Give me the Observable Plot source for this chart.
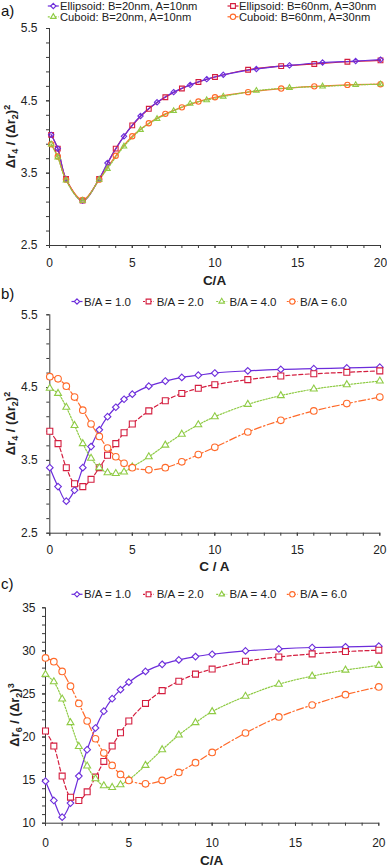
<!DOCTYPE html>
<html><head><meta charset="utf-8">
<script src="https://cdn.jsdelivr.net/npm/d3@7"></script>
<script src="https://cdn.jsdelivr.net/npm/@observablehq/plot@0.6"></script>
<style>
html,body{margin:0;padding:0;background:#fff;}
#chart{position:relative;width:387px;height:867px;overflow:hidden;font-family:"Liberation Sans",Arial,sans-serif;}
#chart svg{position:absolute;left:0;}
</style></head><body><div id="chart"></div>
<script>
// ---------- tick labels ----------
const X_TICKS = [0, 5, 10, 15, 20];
const AB_Y_TICKS = [2.5, 3.5, 4.5, 5.5];
const C_Y_TICKS = [10, 15, 20, 25, 30, 35];

// ---------- panel a ----------
const A_LABELS = ["Ellipsoid: B=20nm, A=10nm", "Ellipsoid: B=60nm, A=30nm", "Cuboid: B=20nm, A=10nm", "Cuboid: B=60nm, A=30nm"];
const aEll20X = [0.1, 0.5, 1, 2, 3, 3.5, 4.5, 5.5, 6.5, 7.5, 8.5, 9.5, 10.5, 12.5, 14.5, 16.5, 18.5, 20];
const aEll20Y = [4.03, 3.84, 3.42, 3.12, 3.42, 3.64, 4.01, 4.29, 4.48, 4.62, 4.72, 4.80, 4.86, 4.94, 4.99, 5.03, 5.05, 5.07];
const aEll60X = [0.1, 0.5, 1, 2, 3, 4, 5, 6, 7, 8, 9, 10, 12, 14, 16, 18, 20];
const aEll60Y = [4.03, 3.84, 3.42, 3.12, 3.42, 3.84, 4.16, 4.39, 4.55, 4.67, 4.76, 4.83, 4.93, 4.98, 5.01, 5.04, 5.06];
const aCub20X = [0.1, 0.5, 1, 2, 3, 3.5, 4.5, 5.5, 6.5, 7.5, 8.5, 9.5, 10.5, 12.5, 14.5, 16.5, 18.5, 20];
const aCub20Y = [3.90, 3.72, 3.40, 3.12, 3.41, 3.56, 3.87, 4.10, 4.25, 4.36, 4.46, 4.51, 4.56, 4.64, 4.68, 4.70, 4.72, 4.73];
const aCub60X = [0.1, 0.5, 1, 2, 3, 4, 5, 6, 7, 8, 9, 10, 12, 14, 16, 18, 20];
const aCub60Y = [3.90, 3.73, 3.41, 3.13, 3.41, 3.74, 4.01, 4.19, 4.32, 4.41, 4.49, 4.55, 4.62, 4.67, 4.70, 4.72, 4.73];

// ---------- panels b and c ----------
const BA_LABELS = ["B/A = 1.0", "B/A = 2.0", "B/A = 4.0", "B/A = 6.0"];
const bcX = [0, 0.5, 1, 1.5, 2, 2.5, 3, 3.5, 4, 4.5, 5, 6, 7, 8, 9, 10, 12, 14, 16, 18, 20];
const bBA1 = [3.40, 3.14, 2.94, 3.09, 3.40, 3.69, 3.92, 4.10, 4.23, 4.34, 4.41, 4.52, 4.59, 4.64, 4.67, 4.70, 4.73, 4.75, 4.76, 4.77, 4.78];
const bBA2 = [3.90, 3.73, 3.40, 3.18, 3.14, 3.24, 3.40, 3.57, 3.73, 3.88, 4.00, 4.18, 4.32, 4.42, 4.49, 4.54, 4.61, 4.66, 4.69, 4.71, 4.73];
const bBA4 = [4.49, 4.42, 4.23, 3.98, 3.73, 3.53, 3.40, 3.33, 3.32, 3.34, 3.41, 3.55, 3.71, 3.86, 3.99, 4.10, 4.27, 4.39, 4.48, 4.54, 4.59];
const bBA6 = [4.65, 4.62, 4.52, 4.37, 4.19, 4.00, 3.83, 3.67, 3.55, 3.46, 3.40, 3.37, 3.40, 3.48, 3.58, 3.68, 3.89, 4.05, 4.18, 4.28, 4.37];
const cBA1 = [14.88, 12.64, 10.70, 12.33, 15.47, 18.53, 21.05, 23.0, 24.45, 25.5, 26.37, 27.62, 28.44, 28.95, 29.34, 29.61, 30.0, 30.23, 30.39, 30.47, 30.55];
const cBA2 = [20.70, 18.95, 15.47, 13.02, 12.64, 13.64, 15.35, 17.17, 18.95, 20.50, 21.86, 23.9, 25.39, 26.48, 27.3, 27.89, 28.79, 29.3, 29.65, 29.92, 30.08];
const cBA4 = [27.27, 26.41, 24.41, 21.67, 18.91, 16.63, 15.16, 14.34, 14.15, 14.46, 15.04, 16.71, 18.53, 20.23, 21.67, 22.95, 24.73, 26.13, 27.07, 27.77, 28.32];
const cBA6 = [29.18, 28.75, 27.62, 25.9, 23.9, 21.86, 19.8, 18.14, 16.71, 15.66, 14.96, 14.57, 14.96, 15.89, 17.02, 18.22, 20.47, 22.33, 23.72, 24.92, 25.82];

// ---------- styles ----------
const PURPLE = "#6C2DDB", RED = "#D41E3F", GREEN = "#8FCB45", ORANGE = "#FF6A2A";
const AX = "#3a3a3a";
const SYM = {
  diamond2: {r: 3.0, s: d3.symbolDiamond2},
  square2: {r: 3.8, s: d3.symbolSquare2},
  triangle2: {r: 3.3, s: d3.symbolTriangle2},
  circle: {r: 3.3, s: d3.symbolCircle}
};
const rows = (xs, ys) => xs.map((x, i) => ({x, y: ys[i]}));

function makePanel(cfg) {
  const marks = [
    Plot.axisX({ticks: d3.range(0, 21, 1), tickSize: 3, tickFormat: () => "", stroke: AX, label: null}),
    Plot.axisX({ticks: X_TICKS, tickSize: 3, tickPadding: cfg.xPad, stroke: AX, label: null}),
    Plot.axisY({ticks: cfg.yMinor, tickSize: 3, tickFormat: () => "", stroke: AX, label: null}),
    Plot.axisY({ticks: cfg.yTicks, tickSize: 3, tickPadding: cfg.yPad, stroke: AX, label: null, tickFormat: cfg.fmt}),
    Plot.ruleX([0], {stroke: AX}),
    Plot.ruleY([cfg.yDomain[0]], {stroke: AX})
  ];
  const sc = cfg.markerScale;
  for (const s of cfg.lineOrder) {
    const d = rows(s.xs, s.ys);
    marks.push(Plot.line(d, {x: "x", y: "y", stroke: s.color, strokeWidth: 1.2, strokeDasharray: s.dash, curve: "catmull-rom"}));
    if (cfg.interleave) marks.push(Plot.dot(d, {x: "x", y: "y", symbol: s.symbol, r: SYM[s.symbol].r * sc, stroke: s.color, strokeWidth: 1.1, fill: cfg.fill}));
  }
  if (!cfg.interleave) for (const s of cfg.dotOrder) {
    marks.push(Plot.dot(rows(s.xs, s.ys), {x: "x", y: "y", symbol: s.symbol, r: SYM[s.symbol].r * sc, stroke: s.color, strokeWidth: 1.1, fill: cfg.fill}));
  }
  const svgEl = Plot.plot({
    width: 387, height: cfg.height,
    marginTop: cfg.mt, marginBottom: cfg.mb, marginLeft: cfg.ml, marginRight: cfg.mr,
    x: {domain: [0, 20]}, y: {domain: cfg.yDomain},
    style: {fontFamily: '"Liberation Sans", Arial, sans-serif', fontSize: "12px", color: "#222", background: "transparent", overflow: "visible"},
    marks
  });
  svgEl.style.top = cfg.top + "px";
  document.getElementById("chart").appendChild(svgEl);
  const svg = d3.select(svgEl);
  const ff = '"Liberation Sans", Arial, sans-serif';
  // panel letter
  svg.append("text").attr("x", 1).attr("y", cfg.letterY).attr("text-anchor", "start").attr("font-family", ff).attr("font-size", 15).attr("fill", "#111").text(cfg.letter);
  // legend
  for (const L of cfg.legend) {
    const g = svg.append("g");
    g.append("line").attr("x1", L.sx - 5.5).attr("x2", L.sx + 5.5).attr("y1", L.sy).attr("y2", L.sy)
      .attr("stroke", L.s.color).attr("stroke-width", 1.2).attr("stroke-dasharray", L.s.dash ? "2,1.5" : null);
    const rr = SYM[L.s.symbol].r * 0.8;
    g.append("path").attr("d", d3.symbol(SYM[L.s.symbol].s, Math.PI * rr * rr)()).attr("transform", `translate(${L.sx},${L.sy})`)
      .attr("fill", "white").attr("stroke", L.s.color).attr("stroke-width", 1.1);
    g.append("text").attr("x", L.tx).attr("y", L.sy + 4).attr("text-anchor", "start").attr("font-family", ff).attr("font-size", cfg.legendFont).attr("fill", "#222").text(L.text);
  }
  // x title
  svg.append("text").attr("x", (cfg.ml + 387 - cfg.mr) / 2).attr("y", cfg.xTitleY).attr("text-anchor", "middle")
    .attr("font-family", ff).attr("font-weight", "bold").attr("font-size", 13.5).attr("fill", "#222").text(cfg.xTitle);
  // y title
  const yc = (cfg.mt + cfg.height - cfg.mb) / 2;
  const t = svg.append("text").attr("transform", `translate(${cfg.yTitleX},${yc}) rotate(-90)`).attr("text-anchor", "middle")
    .attr("font-family", ff).attr("font-weight", "bold").attr("font-size", 13).attr("fill", "#222");
  t.append("tspan").text("Δr");
  t.append("tspan").attr("font-size", 9).attr("dy", 3).text(cfg.ySub);
  t.append("tspan").attr("dy", -3).text(" / (Δr");
  t.append("tspan").attr("font-size", 9).attr("dy", 3).text("2");
  t.append("tspan").attr("dy", -3).text(")");
  t.append("tspan").attr("font-size", 9).attr("dy", -5).text(cfg.ySup);
}

// ---------- panel a ----------
const sA = [
  {xs: aEll20X, ys: aEll20Y, color: PURPLE, symbol: "diamond2", dash: null},
  {xs: aEll60X, ys: aEll60Y, color: RED, symbol: "square2", dash: null},
  {xs: aCub20X, ys: aCub20Y, color: GREEN, symbol: "triangle2", dash: "1.5,1.5"},
  {xs: aCub60X, ys: aCub60Y, color: ORANGE, symbol: "circle", dash: null}
];
makePanel({
  top: 0, height: 290, mt: 28, mb: 45, ml: 49, mr: 7,
  yDomain: [2.5, 5.5], yMinor: d3.range(2.5, 5.51, 0.2), yTicks: AB_Y_TICKS, fmt: d3.format(".1f"),
  xPad: 10, yPad: 9, markerScale: 0.8, fill: "none", interleave: false, legendFont: 11.2,
  lineOrder: [sA[1], sA[0], sA[3], sA[2]], dotOrder: [sA[1], sA[0], sA[3], sA[2]],
  letter: "a)", letterY: 16,
  legend: [
    {s: sA[0], sx: 53.3, sy: 6, tx: 60, text: A_LABELS[0]},
    {s: sA[1], sx: 233, sy: 6, tx: 239, text: A_LABELS[1]},
    {s: sA[2], sx: 53.3, sy: 16.8, tx: 60, text: A_LABELS[2]},
    {s: sA[3], sx: 233, sy: 16.8, tx: 239, text: A_LABELS[3]}
  ],
  xTitle: "C/A", xTitleY: 284.7, yTitleX: 15, ySub: "4", ySup: "2"
});

// ---------- panel b ----------
const sB = [
  {xs: bcX, ys: bBA1, color: PURPLE, symbol: "diamond2", dash: null},
  {xs: bcX, ys: bBA2, color: RED, symbol: "square2", dash: "4,2.5"},
  {xs: bcX, ys: bBA4, color: GREEN, symbol: "triangle2", dash: "1.5,1.5"},
  {xs: bcX, ys: bBA6, color: ORANGE, symbol: "circle", dash: "7,2.5,1.5,2.5"}
];
const legendBC = (y, series) => [
  {sx: 77, tx: 84},
  {sx: 148.5, tx: 156.7},
  {sx: 221.7, tx: 229.5},
  {sx: 292.3, tx: 300}
].map((d, i) => ({...d, sy: y, s: series[i], text: BA_LABELS[i]}));
makePanel({
  top: 290, height: 290, mt: 24.3, mb: 47.3, ml: 49.3, mr: 7.7,
  yDomain: [2.5, 5.5], yMinor: d3.range(2.5, 5.51, 0.2), yTicks: AB_Y_TICKS, fmt: d3.format(".1f"),
  xPad: 9, yPad: 9, markerScale: 1, fill: "white", interleave: true, legendFont: 11.5,
  lineOrder: sB,
  letter: "b)", letterY: 8.7,
  legend: legendBC(11.5, sB),
  xTitle: "C / A", xTitleY: 281.3, yTitleX: 15, ySub: "4", ySup: "2"
});

// ---------- panel c ----------
const sC = [
  {xs: bcX, ys: cBA1, color: PURPLE, symbol: "diamond2", dash: null},
  {xs: bcX, ys: cBA2, color: RED, symbol: "square2", dash: "4,2.5"},
  {xs: bcX, ys: cBA4, color: GREEN, symbol: "triangle2", dash: "1.5,1.5"},
  {xs: bcX, ys: cBA6, color: ORANGE, symbol: "circle", dash: "7,2.5,1.5,2.5"}
];
makePanel({
  top: 580, height: 287, mt: 27.3, mb: 44.3, ml: 45, mr: 8.7,
  yDomain: [10, 35], yMinor: d3.range(10, 35.1, 1), yTicks: C_Y_TICKS, fmt: d3.format("d"),
  xPad: 12, yPad: 7, markerScale: 1, fill: "white", interleave: true, legendFont: 11.5,
  lineOrder: sC,
  letter: "c)", letterY: 8.7,
  legend: legendBC(14.3, sC),
  xTitle: "C/A", xTitleY: 284.5, yTitleX: 18.5, ySub: "6", ySup: "3"
});
</script></body></html>
